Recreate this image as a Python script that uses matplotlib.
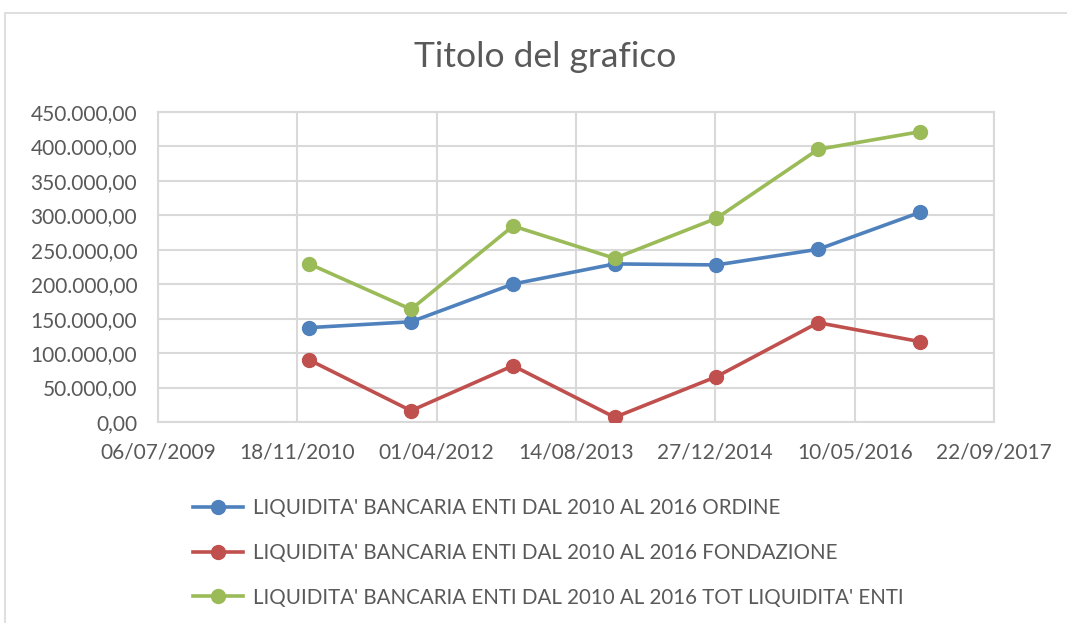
import numpy as np
import matplotlib.pyplot as plt
import matplotlib.dates as mdates
from matplotlib.patches import Rectangle
from datetime import datetime, timedelta

# ------------ Liquidita' bancaria enti, 2010-2016

dates = [datetime(y, 12, 31) for y in range(2010, 2017)]
ordine = [137000, 145500, 200300, 229500, 228000, 250700, 304400]
fondazione = [90000, 16400, 81700, 6800, 65800, 144200, 116600]
totale = [229400, 163600, 284500, 237600, 295700, 395800, 421400]

labels = [
    "LIQUIDITA' BANCARIA ENTI DAL 2010 AL 2016 ORDINE",
    "LIQUIDITA' BANCARIA ENTI DAL 2010 AL 2016 FONDAZIONE",
    "LIQUIDITA' BANCARIA ENTI DAL 2010 AL 2016 TOT LIQUIDITA' ENTI",
]
colors = ["#4F81BD", "#C0504D", "#9BBB59"]

# Excel date axis: 06/07/2009 .. 22/09/2017, major unit 500 days
x_start = datetime(2009, 7, 6)
x_end = datetime(2017, 9, 22)
y_ticks = np.arange(0, 450001, 50000)

plt.rcParams["font.family"] = ["Lato", "DejaVu Sans"]
text_gray = "#595959"
grid_gray = "#D9D9D9"

fig = plt.figure(figsize=(10.67, 6.23), dpi=100)
ax = fig.add_axes([158 / 1067, 1 - 422 / 623, (994 - 158) / 1067, (422 - 112) / 623])

# chart area border (runs off the right and bottom of the screenshot)
fig.patches.append(Rectangle((5 / 1067, -0.1), 1.2, 1 - 13 / 623 + 0.1,
                             transform=fig.transFigure, fill=False,
                             edgecolor=grid_gray, linewidth=1.2))

for vals, lab, col in zip([ordine, fondazione, totale], labels, colors):
    ax.plot(dates, vals, color=col, linewidth=2.6, marker="o", markersize=10,
            label=lab, zorder=3)

ax.set_xlim(x_start, x_end)
ax.set_ylim(0, 450000)
x_ticks = [x_start + timedelta(days=500 * i) for i in range(7)]
ax.set_xticks(x_ticks)
ax.xaxis.set_major_formatter(mdates.DateFormatter("%d/%m/%Y"))
ax.set_yticks(y_ticks)
ax.yaxis.set_major_formatter(
    plt.FuncFormatter(lambda v, p: "{:,.2f}".format(v).replace(",", "X").replace(".", ",").replace("X", ".")))

ax.grid(True, color=grid_gray, linewidth=1.5)
ax.set_axisbelow(True)
for s in ax.spines.values():
    s.set_color(grid_gray)
    s.set_linewidth(1.5)
ax.tick_params(length=0, labelsize=15, labelcolor=text_gray)
ax.tick_params(axis="y", pad=15)
ax.tick_params(axis="x", pad=14.5)

fig.text(545 / 1067, 1 - 57 / 623, "Titolo del grafico", ha="center", va="center",
         fontsize=25.5, color=text_gray)

fig.legend(loc="upper left", bbox_to_anchor=(185 / 1067, 1 - 490 / 623), frameon=False,
           fontsize=14.8, labelcolor=text_gray, handlelength=2.4, handletextpad=0.5,
           labelspacing=1.2, borderaxespad=0)

fig.savefig("out.png", dpi=100)
